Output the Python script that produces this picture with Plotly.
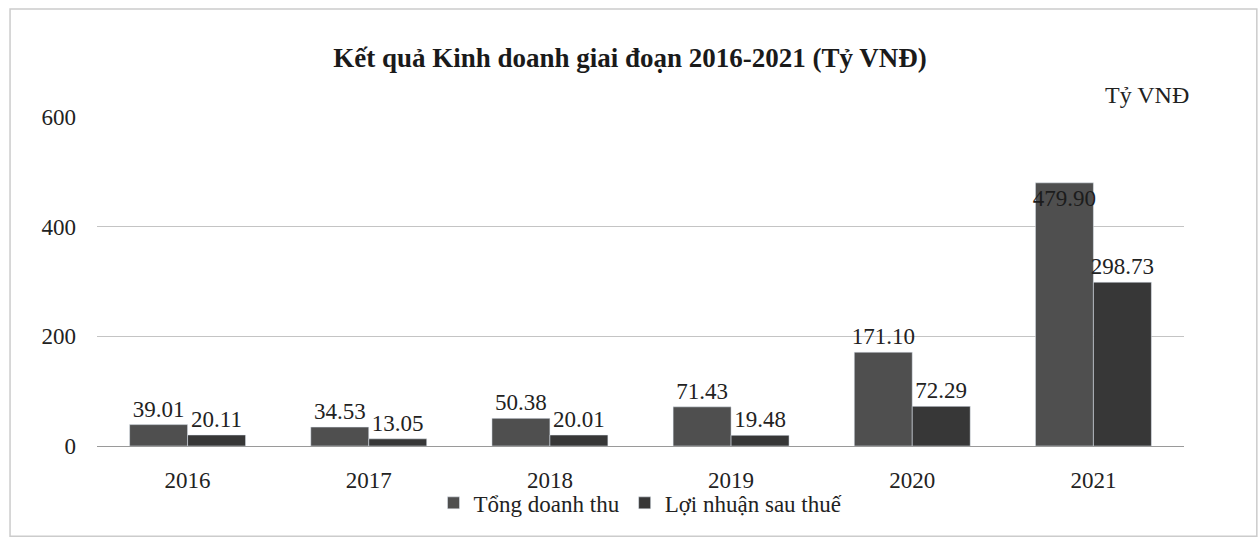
import plotly.graph_objects as go

years = ["2016", "2017", "2018", "2019", "2020", "2021"]
tong_doanh_thu = [39.01, 34.53, 50.38, 71.43, 171.10, 479.90]
loi_nhuan = [20.11, 13.05, 20.01, 19.48, 72.29, 298.73]

SERIF = "Liberation Serif, Times New Roman, serif"
TXT = "#222222"

fig = go.Figure()

# revenue bars; the 2021 label sits inside the top of the bar like in the source
fig.add_trace(go.Bar(
    x=years, y=tong_doanh_thu, name="Tổng doanh thu",
    marker_color="#4f4f4f",
    text=[f"{v:.2f}" for v in tong_doanh_thu],
    textposition=["outside"] * 5 + ["inside"],
    insidetextanchor="end", textangle=0, constraintext="none",
    textfont=dict(family=SERIF, size=23, color=TXT),
    insidetextfont=dict(family=SERIF, size=23, color="#1c1c1c"),
    outsidetextfont=dict(family=SERIF, size=23, color=TXT),
    cliponaxis=False,
))
fig.add_trace(go.Bar(
    x=years, y=loi_nhuan, name="Lợi nhuận sau thuế",
    marker_color="#373737",
    text=[f"{v:.2f}" for v in loi_nhuan],
    textposition="outside", textangle=0, constraintext="none",
    textfont=dict(family=SERIF, size=23, color=TXT),
    cliponaxis=False,
))

fig.update_layout(
    width=1260, height=539,
    paper_bgcolor="white", plot_bgcolor="white",
    barmode="group", bargap=0.36, bargroupgap=0,
    margin=dict(l=97, r=76, t=117, b=93),
    font=dict(family=SERIF, size=23, color=TXT),
    title=dict(
        text="<b>Kết quả Kinh doanh giai đoạn 2016-2021 (Tỷ VNĐ)</b>",
        x=0.5, xanchor="center", y=0.894, yanchor="middle",
        font=dict(family=SERIF, size=27, color="#1a1a1a"),
    ),
    legend=dict(
        orientation="h", x=0.5, xanchor="center", y=-0.173, yanchor="middle",
        font=dict(family=SERIF, size=23, color=TXT),
        bgcolor="rgba(0,0,0,0)", itemwidth=30, traceorder="normal",
    ),
    annotations=[dict(
        text="Tỷ VNĐ", xref="paper", yref="paper", x=0.966, y=1.067,
        xanchor="center", yanchor="middle", showarrow=False,
        font=dict(family=SERIF, size=24, color=TXT),
    )],
    shapes=[dict(
        type="rect", xref="paper", yref="paper",
        x0=-0.080, x1=1.067, y0=-0.274, y1=1.328,
        line=dict(color="#cccccc", width=1.5),
    )],
)

fig.update_yaxes(
    range=[0, 600], dtick=200, showgrid=True, gridcolor="#c4c4c4", gridwidth=1,
    zeroline=True, zerolinecolor="#9a9a9a", zerolinewidth=1,
    ticks="", ticklabelstandoff=20,
    tickfont=dict(family=SERIF, size=23, color=TXT),
)
fig.update_xaxes(
    showline=False, ticks="", ticklabelstandoff=18,
    tickfont=dict(family=SERIF, size=23, color=TXT),
)

# the page body has a default 8px margin; drop it so the figure fills the window
fig.write_html(
    "out.html",
    config={"displayModeBar": False},
    post_script="document.body.style.margin='0';",
)
